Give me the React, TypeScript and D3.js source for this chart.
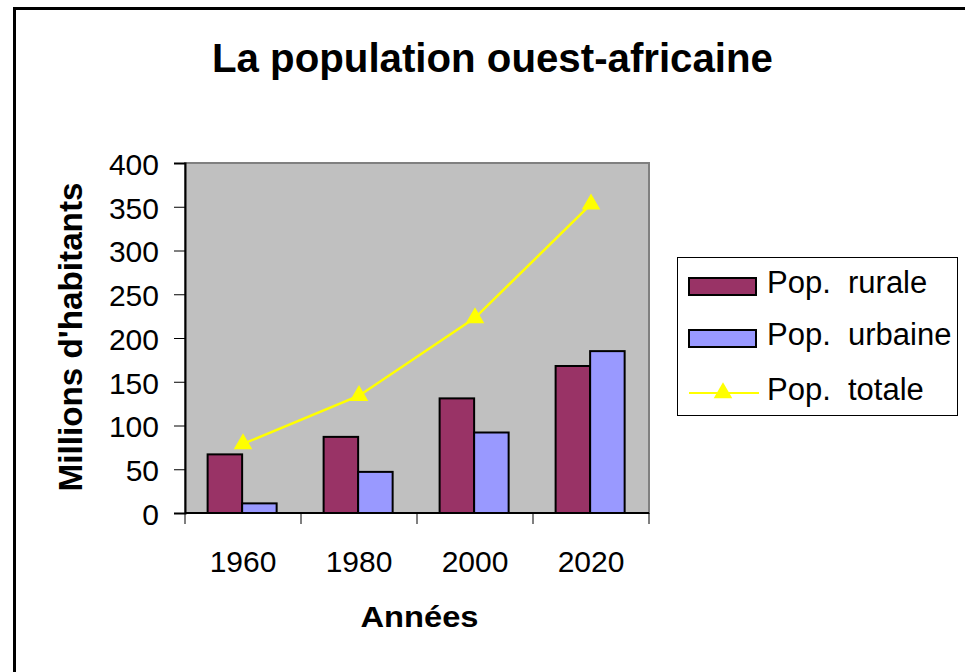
import React, { useEffect, useRef } from "react";
import * as d3 from "d3";

const years = ["1960", "1980", "2000", "2020"];
const rurale = [67, 87, 131, 168];
const urbaine = [11, 47, 92, 185];
const totale = [79, 134, 223, 353];
const yTicks = [0, 50, 100, 150, 200, 250, 300, 350, 400];
const seriesNames = ["Pop. rurale", "Pop. urbaine", "Pop. totale"];

const W = 965;
const H = 672;
const FONT = "'Liberation Sans', Arial, sans-serif";

export default function App() {
  const ref = useRef<SVGSVGElement | null>(null);

  useEffect(() => {
    const svg = d3.select(ref.current);
    svg.selectAll("*").remove();

    const plot = { left: 185, right: 649, top: 163, bottom: 513 };

    const x = d3.scaleBand<string>().domain(years).range([plot.left, plot.right]).padding(0);
    const x1 = d3
      .scaleBand<string>()
      .domain(["rurale", "urbaine"])
      .range([x.bandwidth() * 0.195, x.bandwidth() * 0.79]);
    const y = d3.scaleLinear().domain([0, 400]).range([plot.bottom, plot.top]);

    // outer frame (goes off the page right and bottom)
    svg.append("rect")
      .attr("x", 14.5).attr("y", 8.5)
      .attr("width", 1000).attr("height", 700)
      .attr("fill", "#fff").attr("stroke", "#000").attr("stroke-width", 3);

    svg.append("text")
      .attr("x", 492.5).attr("y", 72)
      .attr("text-anchor", "middle")
      .attr("font-family", FONT).attr("font-weight", "bold").attr("font-size", 40)
      .attr("textLength", 561).attr("lengthAdjust", "spacingAndGlyphs")
      .text("La population ouest-africaine");

    // plot area
    svg.append("rect")
      .attr("x", plot.left).attr("y", plot.top)
      .attr("width", plot.right - plot.left).attr("height", plot.bottom - plot.top)
      .attr("fill", "#c0c0c0").attr("stroke", "#808080").attr("stroke-width", 2);

    const g = svg.append("g");
    const groups = g.selectAll(".grp").data(years).enter().append("g")
      .attr("transform", (d) => `translate(${x(d)},0)`);

    groups.append("rect")
      .attr("x", x1("rurale")!).attr("width", x1.bandwidth())
      .attr("y", (d, i) => y(rurale[i])).attr("height", (d, i) => y(0) - y(rurale[i]))
      .attr("fill", "#993366").attr("stroke", "#000").attr("stroke-width", 2);

    groups.append("rect")
      .attr("x", x1("urbaine")!).attr("width", x1.bandwidth())
      .attr("y", (d, i) => y(urbaine[i])).attr("height", (d, i) => y(0) - y(urbaine[i]))
      .attr("fill", "#9999ff").attr("stroke", "#000").attr("stroke-width", 2);

    // axes
    const yAxis = d3.axisLeft(y).tickValues(yTicks).tickSize(11).tickPadding(15);
    const ya = svg.append("g").attr("transform", `translate(${plot.left},0)`).call(yAxis);
    ya.select(".domain").attr("stroke", "#000").attr("stroke-width", 2);
    ya.selectAll("line").attr("stroke", "#000");
    ya.selectAll("text")
      .attr("font-family", FONT).attr("font-size", 30).attr("fill", "#000")
      .attr("dy", "0.38em");

    const xa = svg.append("g").attr("transform", `translate(0,${plot.bottom})`);
    xa.append("line")
      .attr("x1", plot.left).attr("x2", plot.right)
      .attr("stroke", "#000").attr("stroke-width", 2);
    xa.selectAll(".tk").data([...years.map((d) => x(d)!), plot.right]).enter().append("line")
      .attr("x1", (d) => d).attr("x2", (d) => d)
      .attr("y1", 0).attr("y2", 11).attr("stroke", "#000");
    xa.selectAll(".lbl").data(years).enter().append("text")
      .attr("x", (d) => x(d)! + x.bandwidth() / 2)
      .attr("y", 59)
      .attr("text-anchor", "middle")
      .attr("font-family", FONT).attr("font-size", 30)
      .text((d) => d);

    // total line
    const cx = (d: string) => x(d)! + x.bandwidth() / 2;
    const line = d3.line<number>().x((d, i) => cx(years[i])).y((d) => y(d));
    svg.append("path").datum(totale)
      .attr("d", line).attr("fill", "none")
      .attr("stroke", "#ffff00").attr("stroke-width", 2.5);
    const tri = d3.symbol().type(d3.symbolTriangle).size(150);
    svg.selectAll(".mk").data(totale).enter().append("path")
      .attr("d", tri)
      .attr("transform", (d, i) => `translate(${cx(years[i])},${y(d)})`)
      .attr("fill", "#ffff00");

    // axis titles
    svg.append("text")
      .attr("transform", "translate(82,337) rotate(-90)")
      .attr("text-anchor", "middle")
      .attr("font-family", FONT).attr("font-weight", "bold").attr("font-size", 34)
      .attr("textLength", 309).attr("lengthAdjust", "spacingAndGlyphs")
      .text("Millions d'habitants");

    svg.append("text")
      .attr("x", 419.5).attr("y", 627)
      .attr("text-anchor", "middle")
      .attr("font-family", FONT).attr("font-weight", "bold").attr("font-size", 30)
      .attr("textLength", 118).attr("lengthAdjust", "spacingAndGlyphs")
      .text("Années");

    // legend
    const lg = svg.append("g");
    lg.append("rect")
      .attr("x", 677.5).attr("y", 257.5).attr("width", 280).attr("height", 158)
      .attr("fill", "#fff").attr("stroke", "#000").attr("stroke-width", 1);
    const rowY = [286.5, 338.5, 393];
    const fills = ["#993366", "#9999ff"];
    fills.forEach((f, i) => {
      lg.append("rect")
        .attr("x", 689).attr("y", rowY[i] - 8.5).attr("width", 67).attr("height", 17)
        .attr("fill", f).attr("stroke", "#000").attr("stroke-width", 2);
    });
    lg.append("line")
      .attr("x1", 689).attr("x2", 759).attr("y1", rowY[2]).attr("y2", rowY[2])
      .attr("stroke", "#ffff00").attr("stroke-width", 2);
    lg.append("path").attr("d", tri)
      .attr("transform", `translate(723,${rowY[2]})`).attr("fill", "#ffff00");
    lg.selectAll(".lt").data(seriesNames).enter().append("text")
      .attr("x", 767).attr("y", (d, i) => rowY[i])
      .attr("dy", "0.22em")
      .attr("font-family", FONT).attr("font-size", 31)
      .attr("xml:space", "preserve")
      .text((d) => d.replace(". ", ".  "));
  }, []);

  return (
    <svg
      ref={ref}
      width={W}
      height={H}
      style={{ position: "absolute", left: 0, top: 0, background: "#fff" }}
    />
  );
}
